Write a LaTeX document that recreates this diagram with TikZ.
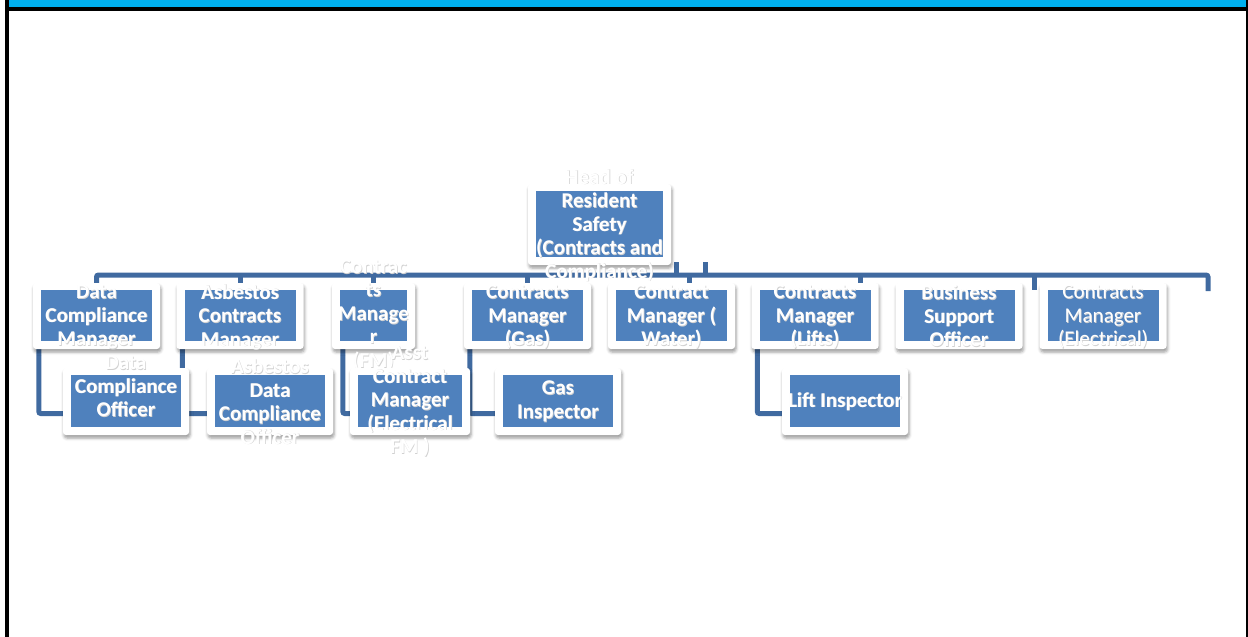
\documentclass[tikz,border=0pt]{standalone}
\usepackage{fontspec}
\setmainfont{Carlito}
\usetikzlibrary{shadows.blur,calc}
\pgfdeclarelayer{background}
\pgfsetlayers{background,main}
\definecolor{boxblue}{RGB}{79,129,189}
\definecolor{connblue}{RGB}{64,106,160}
\definecolor{topblue}{RGB}{0,176,240}
\tikzset{
 wbox/.style={fill=white, rounded corners=3pt, inner sep=0pt,
   blur shadow={shadow xshift=1pt, shadow yshift=-3pt, shadow blur radius=3pt, shadow opacity=40}},
 bbox/.style={fill=boxblue, inner sep=0pt},
 txt/.style={text=white, font=\fontsize{21}{23.5}\selectfont\bfseries, align=center, inner sep=0pt},
 txtsh/.style={txt, text=black!18},
 conn/.style={draw=connblue, line width=5pt, rounded corners=2pt},
}
\newcommand\orgnode[7]{%
 \node[wbox, minimum width=#4pt, minimum height=#5pt] (#1) at (#2,#3) {};
 \node[bbox, minimum width=#4pt-16pt, minimum height=#5pt-15pt] (#1-in) at ([yshift=0.5pt]#1.center) {};
 \node[txtsh, #6] at ([xshift=0.7pt,yshift=-0.7pt]#1.center) {#7};
 \node[txt, #6] (#1-t) at (#1.center) {#7};
}
\begin{document}
\begin{tikzpicture}[x=1pt,y=-1pt]
\useasboundingbox (0,0) rectangle (1248,637);
% frame
\fill[topblue] (9,0) rectangle (1246,7);
\fill[black] (5,7) rectangle (1248,11);
\fill[black] (5,0) rectangle (9,637);
\fill[black] (1246,0) rectangle (1248,637);
% head
\orgnode{head}{599.5}{224.5}{143}{81}{yshift=-1pt}{Head of\\Resident\\Safety\\(Contracts and\\Compliance)}
% level 1
\orgnode{dcm}{96.5}{316}{127}{66}{yshift=-1pt}{Data\\Compliance\\Manager}
\orgnode{acm}{240}{316}{127}{66}{yshift=-1pt}{Asbestos\\Contracts\\Manager}
\orgnode{fm}{373.5}{316}{83}{66}{yshift=1pt}{Contrac\\ts\\Manage\\r\\(FM)}
\orgnode{gas}{527.5}{316}{127}{66}{yshift=-1pt}{Contracts\\Manager\\(Gas)}
\orgnode{water}{671.5}{316}{127}{66}{yshift=-1pt}{Contract\\Manager (\\Water)}
\orgnode{lifts}{815}{316}{127}{66}{yshift=-1pt}{Contracts\\Manager\\(Lifts)}
\orgnode{bso}{959}{316}{127}{66}{}{Business\\Support\\Officer}
\orgnode{elec}{1103}{316}{127}{66}{yshift=-1pt,font=\fontsize{21}{23.5}\selectfont\mdseries}{Contracts\\Manager\\(Electrical)}
% level 2
\orgnode{dco}{126}{401.5}{126}{67}{yshift=15pt}{Data\\Compliance\\Officer}
\orgnode{ado}{270}{401.5}{126}{67}{}{Asbestos\\Data\\Compliance\\Officer}
\orgnode{asst}{410}{401.5}{120}{67}{}{Asst\\Contract\\Manager\\(Electrical\\FM )}
\orgnode{gi}{558}{401.5}{126}{67}{}{Gas\\Inspector}
\orgnode{li}{845}{401.5}{126}{67}{}{Lift Inspector}
% connectors
\begin{pgfonlayer}{background}
\coordinate (busR) at (1208,275);
\coordinate (h1) at ([xshift=5pt,yshift=3pt]head.south east);
\coordinate (h2) at ([xshift=34pt,yshift=3pt]head.south east);
\coordinate (t5) at ([xshift=17.5pt]water.north);
\coordinate (t6) at ([xshift=45pt]lifts.north);
\coordinate (t7) at ([xshift=-69pt]elec.north);
\draw[conn] (dcm.north) |- (busR) -- ++(0,16);
\draw[conn] (h1) -- (h1 |- busR);
\draw[conn] (h2) -- (h2 |- busR);
\draw[conn] (acm.north |- busR) -- (acm.north);
\draw[conn] (fm.north |- busR) -- (fm.north);
\draw[conn] (gas.north |- busR) -- (gas.north);
\draw[conn] (t5 |- busR) -- (t5);
\draw[conn] (t6 |- busR) -- (t6);
\draw[conn] (t7 |- busR) -- ++(0,15);
\draw[conn] ([xshift=6pt]dcm.south west) |- ([yshift=-12pt]dco.west);
\draw[conn] ([xshift=6pt]acm.south west) |- ([yshift=-12pt]ado.west);
\draw[conn] ([xshift=11pt]fm.south west) |- ([yshift=-12pt]asst.west);
\draw[conn] ([xshift=6pt]gas.south west) |- ([yshift=-12pt]gi.west);
\draw[conn] ([xshift=6pt]lifts.south west) |- ([yshift=-12pt]li.west);
\end{pgfonlayer}
\end{tikzpicture}
\end{document}
